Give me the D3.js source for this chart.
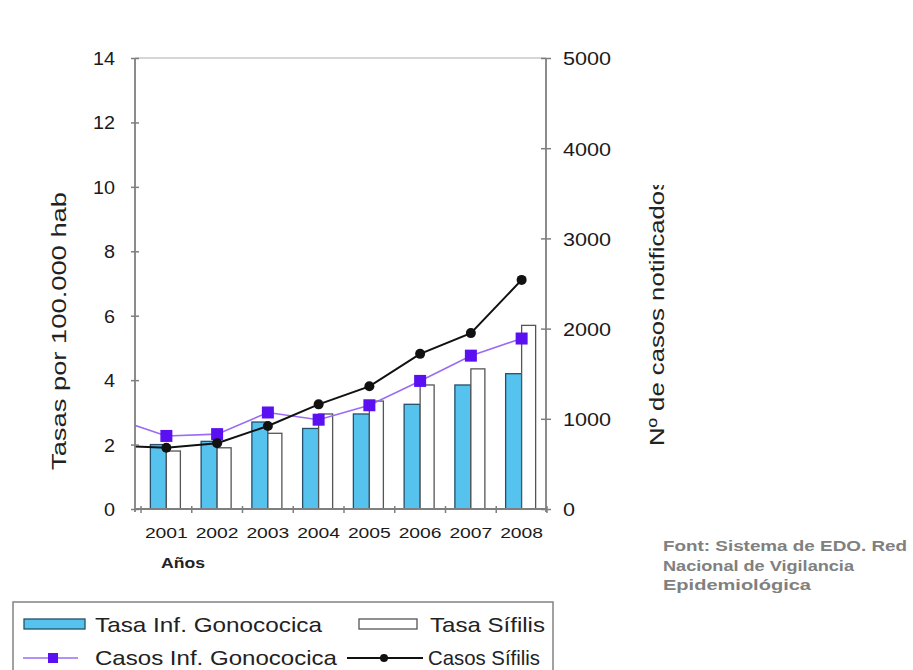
<!DOCTYPE html>
<html>
<head>
<meta charset="utf-8">
<script src="https://cdn.jsdelivr.net/npm/d3@7/dist/d3.min.js"></script>
<style>
  body { margin: 0; background: #fff; }
  svg { display: block; }
  text { font-family: "Liberation Sans", Arial, sans-serif; }
</style>
</head>
<body>
<svg id="chart" width="913" height="670"></svg>
<script>
// Years on the category axis
const years = [2001, 2002, 2003, 2004, 2005, 2006, 2007, 2008];
// Rates per 100.000 inhabitants (left axis, bars)
const tasaGonococica = [2.0, 2.1, 2.7, 2.5, 2.95, 3.25, 3.85, 4.2];
const tasaSifilis = [1.8, 1.9, 2.35, 2.95, 3.35, 3.85, 4.35, 5.7];
// Notified cases (right axis, lines)
const casosGonococica = [810, 830, 1070, 990, 1150, 1420, 1700, 1890];
const casosSifilis = [680, 730, 920, 1160, 1360, 1720, 1950, 2540];
// Year 2000 cases: lines start outside the plotted range and are clipped
const casosGonococica2000 = 1000;
const casosSifilis2000 = 700;
// Axis ticks
const tasaTicks = [0, 2, 4, 6, 8, 10, 12, 14];
const casosTicks = [0, 1000, 2000, 3000, 4000, 5000];

const svg = d3.select("#chart");
const axisColor = "#7f7f7f";

const plot = { left: 135, right: 546, top: 58, bottom: 509 };

const x = d3.scaleBand().domain(years).range([141, 547]).padding(0);
const bw = x.bandwidth();
const cx = y => (y === 2000 ? x(2001) - bw : x(y)) + bw / 2;
const yL = d3.scaleLinear().domain([0, 14]).range([plot.bottom, plot.top]);
const yR = d3.scaleLinear().domain([0, 5000]).range([plot.bottom, plot.top]);

function label(sel, str, px, py, o) {
  const t = sel.append("text")
    .attr("x", px).attr("y", py)
    .attr("font-size", o.size)
    .attr("font-weight", o.weight || "normal")
    .attr("fill", o.fill || "#222")
    .attr("text-anchor", o.anchor || "start")
    .text(str);
  if (o.length) t.attr("textLength", o.length).attr("lengthAdjust", "spacingAndGlyphs");
  if (o.rotate) t.attr("transform", `rotate(${o.rotate},${px},${py})`);
  return t;
}

// Top frame line of the plot area
svg.append("line")
  .attr("x1", plot.left).attr("x2", plot.right)
  .attr("y1", plot.top).attr("y2", plot.top)
  .attr("stroke", "#c8c8c8").attr("stroke-width", 1.5);

// Bars
const barW1 = 16, barW2 = 14;
svg.append("g").selectAll("rect").data(years).join("rect")
  .attr("x", d => x(d) + bw / 2 - barW1)
  .attr("width", barW1)
  .attr("y", (d, i) => yL(tasaGonococica[i]))
  .attr("height", (d, i) => yL(0) - yL(tasaGonococica[i]))
  .attr("fill", "#55c3ee").attr("stroke", "#24506a").attr("stroke-width", 1.3);
svg.append("g").selectAll("rect").data(years).join("rect")
  .attr("x", d => x(d) + bw / 2)
  .attr("width", barW2)
  .attr("y", (d, i) => yL(tasaSifilis[i]))
  .attr("height", (d, i) => yL(0) - yL(tasaSifilis[i]))
  .attr("fill", "#ffffff").attr("stroke", "#555555").attr("stroke-width", 1.3);

// Clip for the case lines
svg.append("clipPath").attr("id", "plotClip")
  .append("rect").attr("x", plot.left).attr("y", 0)
  .attr("width", plot.right - plot.left + 20).attr("height", plot.bottom);

const line = d3.line().x(d => cx(d.year)).y(d => yR(d.v));
const gonoPts = [{ year: 2000, v: casosGonococica2000 }].concat(years.map((y, i) => ({ year: y, v: casosGonococica[i] })));
const sifPts = [{ year: 2000, v: casosSifilis2000 }].concat(years.map((y, i) => ({ year: y, v: casosSifilis[i] })));

const lines = svg.append("g").attr("clip-path", "url(#plotClip)");
lines.append("path").datum(gonoPts).attr("d", line)
  .attr("fill", "none").attr("stroke", "#9a6cf5").attr("stroke-width", 1.6);
lines.append("path").datum(sifPts).attr("d", line)
  .attr("fill", "none").attr("stroke", "#111").attr("stroke-width", 2);

const sq = 12;
svg.append("g").selectAll("rect").data(gonoPts.slice(1)).join("rect")
  .attr("x", d => cx(d.year) - sq / 2).attr("y", d => yR(d.v) - sq / 2)
  .attr("width", sq).attr("height", sq).attr("fill", "#5a10f0");
svg.append("g").selectAll("circle").data(sifPts.slice(1)).join("circle")
  .attr("cx", d => cx(d.year)).attr("cy", d => yR(d.v)).attr("r", 5)
  .attr("fill", "#111");

// Left axis
const gL = svg.append("g").attr("transform", `translate(${plot.left},0)`)
  .call(d3.axisLeft(yL).tickValues(tasaTicks).tickFormat(d3.format("d")).tickSize(0).tickPadding(0));
gL.select(".domain").remove();
gL.append("line").attr("y1", plot.top).attr("y2", plot.bottom + 3)
  .attr("stroke", axisColor).attr("stroke-width", 1.8);
gL.selectAll(".tick").append("line").attr("x1", -4).attr("x2", 4)
  .attr("stroke", axisColor).attr("stroke-width", 1.5);
gL.selectAll(".tick text")
  .attr("x", -20).attr("dy", "0.36em")
  .attr("font-size", 18).attr("font-family", "Liberation Sans, Arial, sans-serif")
  .attr("fill", "#1a1a1a")
  .attr("textLength", d => String(d).length * 11)
  .attr("lengthAdjust", "spacingAndGlyphs");

// Right axis
const gR = svg.append("g").attr("transform", `translate(${plot.right},0)`)
  .call(d3.axisRight(yR).tickValues(casosTicks).tickFormat(d3.format("d")).tickSize(0).tickPadding(0));
gR.select(".domain").remove();
gR.append("line").attr("y1", plot.top).attr("y2", plot.bottom + 3)
  .attr("stroke", axisColor).attr("stroke-width", 1.8);
gR.selectAll(".tick").append("line").attr("x1", -5).attr("x2", 5)
  .attr("stroke", axisColor).attr("stroke-width", 1.5);
gR.selectAll(".tick text")
  .attr("x", 17).attr("dy", "0.36em")
  .attr("font-size", 19).attr("font-family", "Liberation Sans, Arial, sans-serif")
  .attr("fill", "#1a1a1a")
  .attr("textLength", d => String(d).length * 12)
  .attr("lengthAdjust", "spacingAndGlyphs");

// Bottom axis
const gB = svg.append("g").attr("transform", `translate(0,${plot.bottom})`);
gB.append("line").attr("x1", plot.left).attr("x2", plot.right)
  .attr("stroke", axisColor).attr("stroke-width", 1.8);
gB.selectAll("line.tk").data(years.concat([null])).join("line").attr("class", "tk")
  .attr("x1", (d, i) => 141 + i * bw).attr("x2", (d, i) => 141 + i * bw)
  .attr("y1", -3).attr("y2", 4)
  .attr("stroke", axisColor).attr("stroke-width", 1.5);
gB.selectAll("text").data(years).join("text")
  .attr("x", d => cx(d)).attr("y", 29)
  .attr("text-anchor", "middle")
  .attr("font-size", 15).attr("fill", "#1a1a1a")
  .attr("textLength", 43).attr("lengthAdjust", "spacingAndGlyphs")
  .text(d => d);

// Axis titles
label(svg, "Años", 183, 568, { size: 15, weight: "bold", anchor: "middle", length: 44 });
label(svg, "Tasas por 100.000 hab", 66, 331, { size: 21, anchor: "middle", length: 278, rotate: -90 });

svg.append("clipPath").attr("id", "titleClip")
  .append("rect").attr("x", 620).attr("y", 185).attr("width", 80).attr("height", 300);
const rt = svg.append("g").attr("clip-path", "url(#titleClip)");
label(rt, "Nº de casos notificados", 664, 446, { size: 21, anchor: "start", length: 268, rotate: -90 });

// Source note
const srcOpt = { size: 14.5, weight: "bold", fill: "#808080" };
label(svg, "Font: Sistema de EDO. Red", 663, 551, Object.assign({ length: 244 }, srcOpt));
label(svg, "Nacional de Vigilancia", 663, 571, Object.assign({ length: 191 }, srcOpt));
label(svg, "Epidemiológica", 663, 590, Object.assign({ length: 148 }, srcOpt));

// Legend
const lg = svg.append("g");
lg.append("rect").attr("x", 13).attr("y", 602).attr("width", 540).attr("height", 90)
  .attr("fill", "#fff").attr("stroke", "#8a8a8a").attr("stroke-width", 1.6);
lg.append("rect").attr("x", 24).attr("y", 619).attr("width", 61).attr("height", 10)
  .attr("fill", "#55c3ee").attr("stroke", "#24506a").attr("stroke-width", 1.3);
label(lg, "Tasa Inf. Gonococica", 95, 632, { size: 21, length: 227 });
lg.append("rect").attr("x", 359).attr("y", 619).attr("width", 58).attr("height", 10)
  .attr("fill", "#fff").attr("stroke", "#555").attr("stroke-width", 1.3);
label(lg, "Tasa Sífilis", 430, 632, { size: 21, length: 115 });

lg.append("line").attr("x1", 23).attr("x2", 78).attr("y1", 658).attr("y2", 658)
  .attr("stroke", "#9a6cf5").attr("stroke-width", 1.6);
lg.append("rect").attr("x", 53 - 5).attr("y", 658 - 5).attr("width", 10).attr("height", 10)
  .attr("fill", "#5a10f0");
label(lg, "Casos Inf. Gonococica", 95, 665, { size: 21, length: 242 });
lg.append("line").attr("x1", 347).attr("x2", 423).attr("y1", 658).attr("y2", 658)
  .attr("stroke", "#111").attr("stroke-width", 2);
lg.append("circle").attr("cx", 384).attr("cy", 658).attr("r", 4).attr("fill", "#111");
label(lg, "Casos Sífilis", 428, 665, { size: 21, length: 112 });
</script>
</body>
</html>
